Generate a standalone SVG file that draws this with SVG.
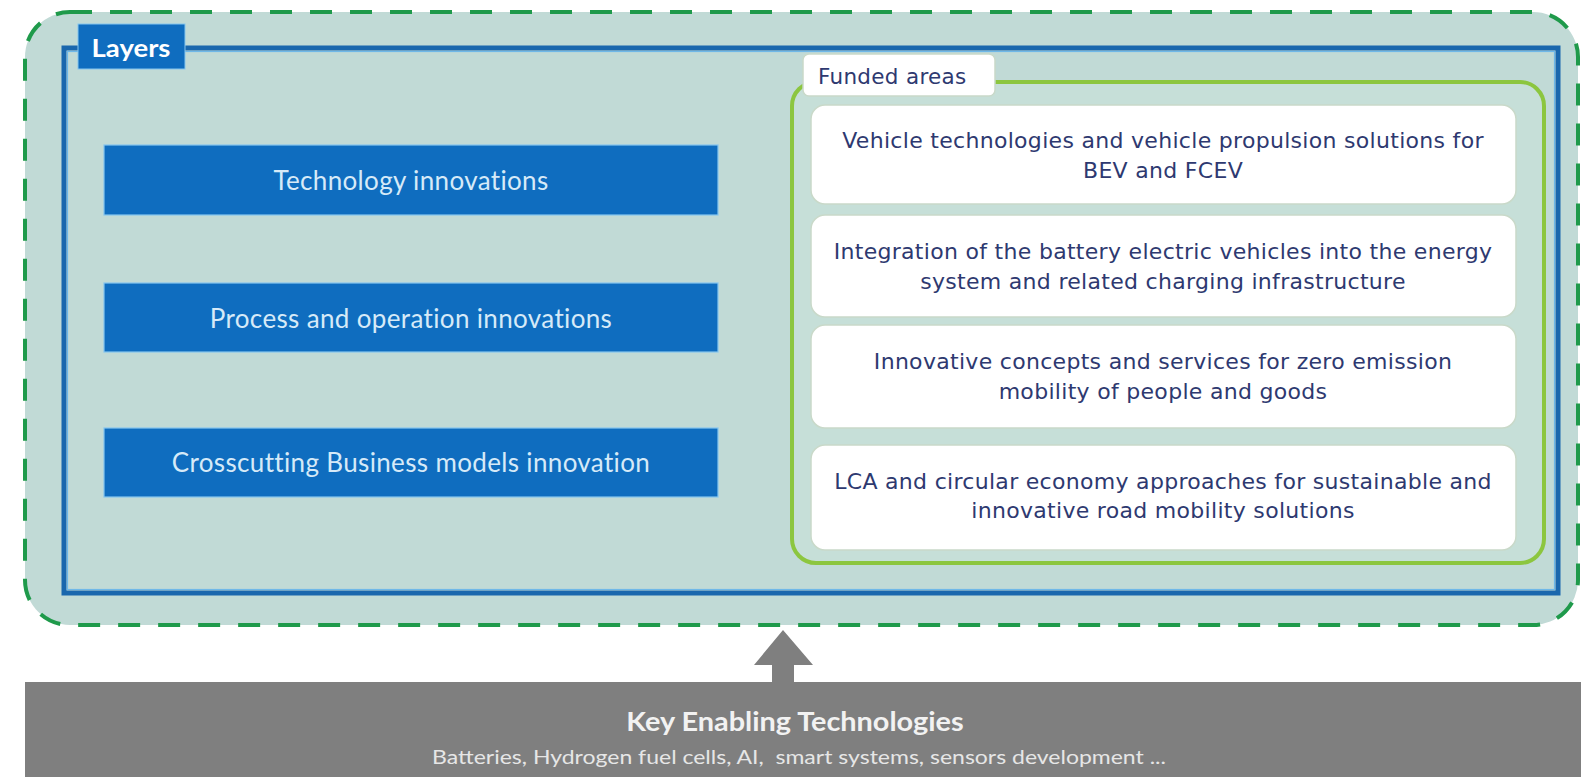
<svg xmlns="http://www.w3.org/2000/svg" width="1581" height="777" viewBox="0 0 1581 777">
<style>
.lbox{fill:#0f6dbf;stroke:#86c6ee;stroke-width:1.2}
.ltxt{font-family:Lato,"Open Sans",sans-serif;font-size:26px;letter-spacing:0.35px;fill:#d6eaf8;text-anchor:middle}
.wbox{fill:#ffffff;stroke:#c9d9c9;stroke-width:1.5}
.wtxt{font-family:"DejaVu Sans",Verdana,sans-serif;font-size:22px;letter-spacing:0.3px;fill:#2e3970;text-anchor:middle}
</style>
<rect width="1581" height="777" fill="#ffffff"/>
<g id="outer">
<rect x="25" y="12" width="1553" height="613" rx="45" fill="#c1dad6" stroke="#1f9a4b" stroke-width="4" stroke-dasharray="22 18"/>
</g>
<g id="layers-frame">
<rect x="64" y="48" width="1494" height="545" fill="none" stroke="#1a67ad" stroke-width="5"/>
<rect x="67.5" y="51.5" width="1487" height="538" fill="none" stroke="#6fb8e8" stroke-width="1.2"/>
<rect x="78" y="24" width="107" height="45" fill="#0f6dbf" stroke="#86c6ee" stroke-width="1"/>
<text transform="translate(131,57) scale(1.1,1)" font-family="Lato,'Open Sans',sans-serif" font-size="25" font-weight="bold" fill="#ffffff" text-anchor="middle">Layers</text>
</g>
<g id="tech">
<rect class="lbox" x="104" y="145" width="614" height="70"/>
<text class="ltxt" x="411" y="190">Technology innovations</text>
</g>
<g id="process">
<rect class="lbox" x="104" y="283" width="614" height="69"/>
<text class="ltxt" x="411" y="328">Process and operation innovations</text>
</g>
<g id="business">
<rect class="lbox" x="104" y="428" width="614" height="69"/>
<text class="ltxt" x="411" y="472">Crosscutting Business models innovation</text>
</g>
<g id="funded-frame">
<rect x="792" y="82" width="752" height="481" rx="24" fill="#c6dfd8" stroke="#8cc63f" stroke-width="4"/>
<rect x="803" y="54" width="192" height="42" rx="6" fill="#ffffff" stroke="#c9d9c9" stroke-width="1.5"/>
<text x="818" y="84" font-family="'DejaVu Sans',Verdana,sans-serif" font-size="21.5" letter-spacing="0.3" fill="#2e3970">Funded areas</text>
</g>
<g id="area1">
<rect class="wbox" x="811" y="105" width="705" height="99" rx="14"/>
<text class="wtxt" x="1163" y="148">Vehicle technologies and vehicle propulsion solutions for</text>
<text class="wtxt" x="1163" y="178">BEV and FCEV</text>
</g>
<g id="area2">
<rect class="wbox" x="811" y="215" width="705" height="102" rx="14"/>
<text class="wtxt" x="1163" y="259">Integration of the battery electric vehicles into the energy</text>
<text class="wtxt" x="1163" y="289">system and related charging infrastructure</text>
</g>
<g id="area3">
<rect class="wbox" x="811" y="325" width="705" height="103" rx="14"/>
<text class="wtxt" x="1163" y="369">Innovative concepts and services for zero emission</text>
<text class="wtxt" x="1163" y="399">mobility of people and goods</text>
</g>
<g id="area4">
<rect class="wbox" x="811" y="445" width="705" height="105" rx="14"/>
<text class="wtxt" x="1163" y="489">LCA and circular economy approaches for sustainable and</text>
<text class="wtxt" x="1163" y="518">innovative road mobility solutions</text>
</g>
<g id="connectors">
<polygon points="783,630 813,665 794,665 794,684 772,684 772,665 754,665" fill="#7f7f7f"/>
</g>
<g id="ket">
<rect x="25" y="682" width="1556" height="95" fill="#7f7f7f"/>
<text transform="translate(795,731) scale(1.11,1)" font-family="Lato,'Open Sans',sans-serif" font-size="26" font-weight="bold" fill="#f2f2f2" text-anchor="middle">Key Enabling Technologies</text>
<text transform="translate(799,764) scale(1.15,1)" font-family="Lato,'Open Sans',sans-serif" font-size="20" fill="#e6e6e6" text-anchor="middle" xml:space="preserve">Batteries, Hydrogen fuel cells, AI,  smart systems, sensors development ...</text>
</g>
</svg>
